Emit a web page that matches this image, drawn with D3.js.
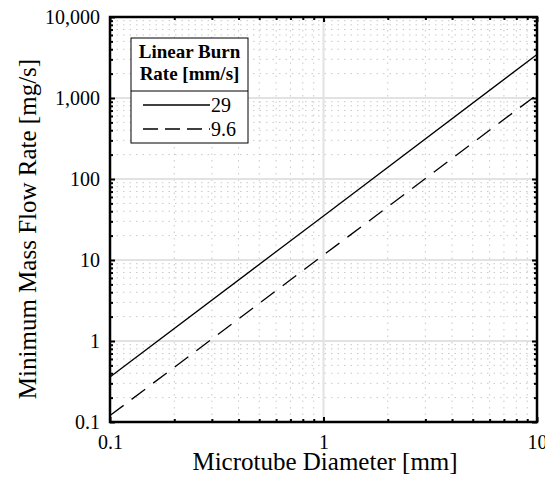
<!DOCTYPE html>
<html>
<head>
<meta charset="UTF-8">
<script src="https://d3js.org/d3.v7.min.js"></script>
<style>
    html, body { margin:0; padding:0; background:#fff; }
    svg text { font-family: "Liberation Serif", "Times New Roman", serif; fill:#000; }
</style>
</head>
<body>
<div id="chart"></div>
<script>
    // diameters (mm) and min mass flow (mg/s) for each burn rate
    const diameters = [0.1, 1, 10];
    const flow29 = [0.36, 35, 3450];
    const flow96 = [0.12, 11.5, 1100];
    const seriesNames = ["29", "9.6"];
    const xTicks = [0.1, 1, 10];
    const yTicks = [0.1, 1, 10, 100, 1000, 10000];

    const W = 545, H = 485;
    const margin = { top: 17, right: 8, bottom: 63, left: 110 };
    const width = W - margin.left - margin.right,
        height = H - margin.top - margin.bottom;

    const svg = d3.select("#chart").append("svg")
        .attr("width", W).attr("height", H)
        .attr("font-family", "Liberation Serif");
    const g = svg.append("g")
        .attr("transform", `translate(${margin.left},${margin.top})`);

    const x = d3.scaleLog().domain([0.1, 10]).range([0, width]);
    const y = d3.scaleLog().domain([0.1, 10000]).range([height, 0]);

    // minor values
    const xMinor = [], yMinor = [];
    for (let e = -1; e < 1; e++) for (let k = 2; k <= 9; k++) xMinor.push(k * Math.pow(10, e));
    for (let e = -1; e < 4; e++) for (let k = 2; k <= 9; k++) yMinor.push(k * Math.pow(10, e));

    // grid
    g.append("g").selectAll("line").data(xMinor).join("line")
        .attr("x1", d => x(d)).attr("x2", d => x(d))
        .attr("y1", 0).attr("y2", height)
        .attr("stroke", "#c8c8c8").attr("stroke-width", 1)
        .attr("stroke-dasharray", "1.5,5");
    g.append("g").selectAll("line").data(yMinor).join("line")
        .attr("y1", d => y(d)).attr("y2", d => y(d))
        .attr("x1", 0).attr("x2", width)
        .attr("stroke", "#c8c8c8").attr("stroke-width", 1)
        .attr("stroke-dasharray", "1.5,5");
    g.append("g").selectAll("line").data(xTicks.slice(1, -1)).join("line")
        .attr("x1", d => x(d)).attr("x2", d => x(d))
        .attr("y1", 0).attr("y2", height)
        .attr("stroke", "#e2e2e2").attr("stroke-width", 2);
    g.append("g").selectAll("line").data(yTicks.slice(1, -1)).join("line")
        .attr("y1", d => y(d)).attr("y2", d => y(d))
        .attr("x1", 0).attr("x2", width)
        .attr("stroke", "#e2e2e2").attr("stroke-width", 2);

    // data lines
    const line = d3.line().x(d => x(d[0])).y(d => y(d[1]));
    g.append("path")
        .datum(diameters.map((d, i) => [d, flow29[i]]))
        .attr("d", line).attr("fill", "none")
        .attr("stroke", "#000").attr("stroke-width", 1.3);
    g.append("path")
        .datum(diameters.map((d, i) => [d, flow96[i]]))
        .attr("d", line).attr("fill", "none")
        .attr("stroke", "#000").attr("stroke-width", 1.3)
        .attr("stroke-dasharray", "17,10");

    // axes with inward ticks
    const fmt = d3.format(",");
    function addAxis(axisFn, scale, major, minor, transform, labels) {
        const a = g.append("g").attr("transform", transform)
            .call(axisFn(scale).tickValues(major.concat(minor))
                .tickSizeOuter(0)
                .tickFormat(d => labels && major.includes(d) ? fmt(d) : ""));
        a.attr("font-family", null);
        a.select(".domain").remove();
        a.selectAll(".tick line").attr("stroke", "#000").attr("stroke-width", 2);
        a.selectAll(".tick").each(function(d) {
            const s = major.includes(d) ? 5 : 3;
            const ln = d3.select(this).select("line");
            if (axisFn === d3.axisBottom) ln.attr("y2", -s);
            if (axisFn === d3.axisTop) ln.attr("y2", s);
            if (axisFn === d3.axisLeft) ln.attr("x2", s);
            if (axisFn === d3.axisRight) ln.attr("x2", -s);
        });
        return a;
    }
    const xb = addAxis(d3.axisBottom, x, xTicks, xMinor, `translate(0,${height})`, true);
    addAxis(d3.axisTop, x, xTicks, xMinor, "translate(0,0)", false);
    const yl = addAxis(d3.axisLeft, y, yTicks, yMinor, "translate(0,0)", true);
    addAxis(d3.axisRight, y, yTicks, yMinor, `translate(${width},0)`, false);
    xb.selectAll("text").attr("font-size", 20).attr("fill", "#000")
        .attr("dy", "0").attr("y", 27);
    yl.selectAll("text").attr("font-size", 20).attr("fill", "#000")
        .attr("x", -10).attr("dy", "0.33em");

    // frame
    g.append("rect").attr("width", width).attr("height", height)
        .attr("fill", "none").attr("stroke", "#000").attr("stroke-width", 2.5);

    // axis titles
    svg.append("text").attr("x", 325).attr("y", 470)
        .attr("text-anchor", "middle").attr("font-size", 25)
        .text("Microtube Diameter [mm]");
    svg.append("text")
        .attr("transform", `translate(36,229) rotate(-90)`)
        .attr("text-anchor", "middle").attr("font-size", 25)
        .text("Minimum Mass Flow Rate [mg/s]");

    // legend
    const lg = svg.append("g").attr("transform", "translate(131,38)");
    lg.append("rect").attr("width", 117).attr("height", 105)
        .attr("fill", "#fff").attr("stroke", "#000").attr("stroke-width", 1);
    lg.append("line").attr("x1", 0).attr("x2", 117).attr("y1", 53).attr("y2", 53)
        .attr("stroke", "#000").attr("stroke-width", 1);
    lg.append("text").attr("x", 58.5).attr("y", 20).attr("text-anchor", "middle")
        .attr("font-size", 19).attr("font-weight", "bold").text("Linear Burn");
    lg.append("text").attr("x", 58.5).attr("y", 42).attr("text-anchor", "middle")
        .attr("font-size", 19).attr("font-weight", "bold").text("Rate [mm/s]");
    const dashes = [null, "15,7"];
    seriesNames.forEach((n, i) => {
        const yy = 67 + i * 24;
        lg.append("line").attr("x1", 12).attr("x2", 79).attr("y1", yy).attr("y2", yy)
            .attr("stroke", "#000").attr("stroke-width", 1.3)
            .attr("stroke-dasharray", dashes[i]);
        lg.append("text").attr("x", 80).attr("y", yy + 7).attr("font-size", 20).text(n);
    });
</script>
</body>
</html>
